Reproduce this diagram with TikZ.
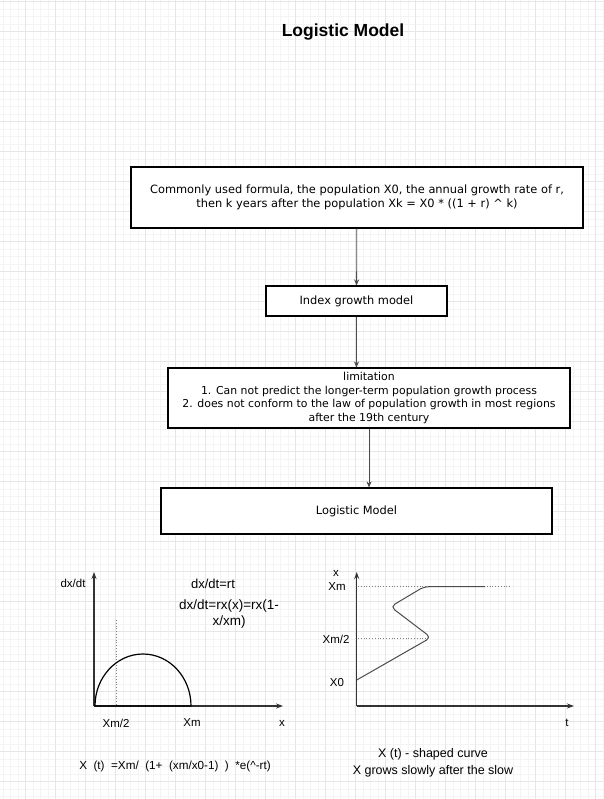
\documentclass[tikz,border=0pt]{standalone}
\usepackage{fontspec}
\setmainfont{Liberation Sans}
\newfontfamily\sketchfont{DejaVu Sans}
\usetikzlibrary{arrows.meta}
\definecolor{gridminor}{HTML}{F4F4F4}
\definecolor{gridmajor}{HTML}{E6E6E6}
\tikzset{
	every node/.append style={
		inner sep=0pt,
	},
	stepbox/.style={
		draw,
		fill=white,
		line width=1.1pt,
		align = center,
		font={\sketchfont\fontsize{11.4}{13.5}\selectfont},
	},
	labe/.style={
		align = center,
		font={\fontsize{11.5}{16.5}\selectfont},
	},
	axis/.style={
		draw=black!80,
		line width=1.2pt,
		-{Stealth[length=7pt,width=5pt]},
	},
	guide/.style={
		draw=gray,
		dotted,
		line width=0.8pt,
	},
	flow/.style={
		draw=black!70,
		line width=0.8pt,
		-{Stealth[length=6pt,width=5pt]},
	},
}

\begin{document}
\begin{tikzpicture}[x=1pt, y=-1pt]

\useasboundingbox (0,0) rectangle (603,799);

% background grid
\foreach \gx in {0,...,80} \draw[gridminor, line width=0.5pt] ({3.2+7.5*\gx},0) -- ++(0,799);
\foreach \gy in {0,...,106} \draw[gridminor, line width=0.5pt] (0,{1.7+7.5*\gy}) -- ++(603,0);
\foreach \gx in {0,...,20} \draw[gridmajor, line width=0.6pt] ({25.7+30*\gx},0) -- ++(0,799);
\foreach \gy in {0,...,26} \draw[gridmajor, line width=0.6pt] (0,{1.7+30*\gy}) -- ++(603,0);

\node(title) at (343,32) [font={\fontsize{17.5}{20}\selectfont\bfseries}] {Logistic Model};

% flow chart
\node(formula)[stepbox, minimum width=452, minimum height=61] at (357,197.5)
	{Commonly used formula, the population X0, the annual growth rate of r,\\
	 then k years after the population Xk = X0 * ((1 + r) \^{} k)};
\node(index)[stepbox, minimum width=181, minimum height=30] at (356.5,301) {Index growth model};
\node(limit)[stepbox, minimum width=402, minimum height=60, font={\sketchfont\fontsize{10.9}{13.5}\selectfont}] at (369,398)
	{limitation\\
	 1. Can not predict the longer-term population growth process\\
	 2. does not conform to the law of population growth in most regions\\
	 after the 19th century};
\node(logistic)[stepbox, minimum width=391, minimum height=46] at (356.5,511) {Logistic Model};

\draw[flow] (formula) -- (index);
\draw[flow] (index) -- (index |- limit.north);
\draw[flow] (limit) -- (limit |- logistic.north);

% left graph: dx/dt over x
\coordinate (o1) at (94,706);
\coordinate (y1) at (94,572);
\coordinate (x1) at (283,706);
\draw[axis] (o1) -- (y1);
\draw[axis] (o1) -- (x1);
\draw[guide] (116.7,620) -- (116.7,706);
\draw[line width=1.2pt] (191,706) arc[start angle=0, end angle=180, x radius=48pt, y radius=52pt] -- cycle;

\node(dxdt)[labe] at (73,583) {dx/dt};
\node(half1)[labe] at (116,723) {Xm/2};
\node(xm1)[labe] at (192,723) {Xm};
\node(xlab)[labe] at (282,723) {x};
\node(rt)[labe, font={\fontsize{13}{16.5}\selectfont}] at (213,584) {dx/dt=rt};
\node(rx)[labe, font={\fontsize{13.5}{16.5}\selectfont}] at (229,614) {dx/dt=rx(x)=rx(1-\\x/xm)};

% right graph: x over t
\coordinate (o2) at (356.7,706);
\coordinate (y2) at (356.7,572);
\coordinate (x2) at (574,706);
\draw[axis] (o2) -- (y2);
\draw[axis] (o2) -- (x2);
\draw[guide] (358,586.7) -- (512,586.7);
\draw[guide] (358,638) -- (428,638);
\draw[black!70, line width=1pt, rounded corners=5pt]
	(356.7,680) -- (431,637.5) -- (390.5,606.7) -- (424,586.7) -- (485,586.7);

\node(xax)[labe] at (336,573) {x};
\node(xm2)[labe] at (337,587) {Xm};
\node(half2)[labe] at (336,639) {Xm/2};
\node(x0)[labe] at (337,683) {X0};
\node(tlab)[labe] at (567,723) {t};

% captions
\node(sol)[labe, font={\fontsize{11.7}{14}\selectfont}] at (175,766)
	{X\ \ (t)\ \ =Xm/\ \ (1+\ \ (xm/x0-1)\ \ )\ \ *e(\^{}-rt)};
\node(scurve)[labe, font={\fontsize{12.5}{16.5}\selectfont}] at (433,763)
	{X (t) - shaped curve\\X grows slowly after the slow};

\end{tikzpicture}
\end{document}
